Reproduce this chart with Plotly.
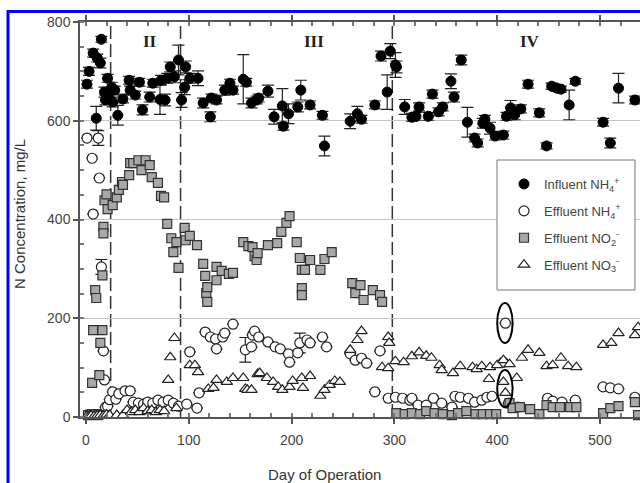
import plotly.graph_objects as go

# ---------------- data ----------------
inf_day = [1, 3, 7, 10, 11, 14, 15, 18, 19, 21, 22, 25, 26, 28, 31, 36, 42, 43, 48, 52, 55, 62, 65,
           72, 73, 77, 79, 82, 86, 90, 93, 96, 97, 101, 109, 114, 121, 122, 127, 135, 140, 143, 153,
           156, 161, 166, 168, 177, 183, 191, 192, 197, 206, 209, 218, 230, 232, 257, 264, 268, 281,
           287, 293, 296, 301, 302, 310, 317, 321, 324, 333, 337, 343, 347, 355, 358, 365, 371, 378,
           381, 386, 388, 393, 398, 406, 409, 413, 417, 423, 430, 441, 448, 453, 458, 462, 470, 476,
           503, 510, 518, 534]
inf_val = [674, 700, 737, 605, 727, 717, 765, 658, 642, 686, 648, 668, 638, 662, 611, 644, 682, 662, 652,
           678, 622, 648, 676, 643, 682, 642, 686, 709, 689, 723, 642, 668, 709, 686, 686, 636, 608, 646,
           642, 662, 676, 662, 684, 678, 636, 642, 646, 660, 608, 630, 589, 614, 628, 662, 632, 611, 549,
           599, 614, 603, 632, 731, 658, 741, 713, 709, 628, 607, 609, 628, 609, 654, 618, 628, 680, 648,
           723, 597, 565, 555, 595, 603, 585, 569, 571, 609, 626, 612, 624, 674, 616, 549, 670, 666, 664,
           632, 680, 597, 555, 666, 642]
inf_err = [8, 8, 8, 24, 8, 10, 6, 10, 10, 8, 10, 10, 10, 8, 20, 8, 8, 8, 8, 8, 10, 10, 8, 30, 10, 12, 10,
           10, 12, 30, 15, 15, 12, 10, 15, 10, 10, 8, 8, 10, 8, 8, 50, 8, 10, 8, 8, 12, 15, 35, 8, 20, 10,
           20, 8, 8, 20, 15, 15, 8, 8, 10, 35, 15, 25, 12, 15, 8, 8, 8, 8, 8, 8, 8, 15, 10, 10, 30, 8, 8,
           10, 8, 12, 8, 8, 8, 15, 10, 8, 8, 8, 6, 6, 6, 6, 30, 6, 8, 10, 30, 8]

eff_nh4_day = [1, 6, 7, 12, 13, 15, 17, 18, 19, 21, 23, 26, 29, 32, 38, 43, 46, 51, 56, 60, 65, 70, 75,
               80, 85, 90, 98, 101, 108, 110, 116, 121, 126, 127, 133, 135, 143, 155, 161, 162, 164, 168,
               177, 184, 189, 197, 198, 206, 208, 215, 218, 230, 234, 257, 262, 268, 273, 281, 286, 294,
               301, 308, 315, 317, 323, 331, 338, 346, 356, 359, 364, 372, 378, 385, 390, 395, 406, 408,
               411, 420, 449, 454, 463, 476, 503, 510, 518, 534]
eff_nh4_val = [565, 524, 411, 565, 484, 304, 134, 75, 20, 22, 35, 51, 36, 47, 53, 53, 30, 28, 26, 30, 28,
               34, 30, 34, 28, 22, 26, 132, 18, 49, 172, 162, 158, 138, 162, 170, 188, 136, 142, 166, 174,
               162, 152, 142, 138, 128, 111, 130, 150, 156, 150, 162, 142, 128, 115, 119, 109, 51, 134, 38,
               40, 38, 34, 38, 24, 24, 38, 28, 20, 42, 40, 38, 30, 34, 40, 42, 111, 190, 28, 20, 38, 32,
               30, 34, 61, 59, 57, 40]
eff_nh4_err = [0, 0, 0, 15, 0, 15, 0, 0, 0, 0, 0, 0, 0, 0, 0, 0, 0, 0, 0, 0, 0, 0, 0, 0, 0, 0, 0, 0, 0,
               0, 0, 0, 0, 0, 0, 0, 0, 25, 0, 0, 0, 0, 0, 0, 0, 0, 0, 0, 20, 0, 0, 0, 0, 0, 0, 0, 0, 0,
               0, 0, 0, 0, 0, 0, 0, 0, 0, 0, 0, 0, 0, 0, 0, 0, 0, 0, 0, 0, 0, 0, 0, 0, 0, 0, 0, 0, 0, 0]

no2_day = [2, 4, 6, 8, 10, 12, 6, 9, 10, 7, 13, 14, 16, 16, 17, 17, 18, 20, 21, 26, 30, 32, 35, 36, 42,
           43, 46, 51, 54, 58, 62, 64, 70, 73, 76, 79, 83, 85, 88, 90, 96, 97, 101, 108, 114, 116, 117,
           118, 118, 127, 127, 132, 139, 143, 153, 158, 162, 164, 166, 167, 177, 186, 190, 195, 198,
           205, 208, 210, 210, 210, 213, 218, 228, 232, 239, 259, 262, 267, 270, 279, 286, 288, 302,
           310, 317, 325, 331, 339, 347, 356, 362, 370, 379, 386, 393, 399, 412, 415, 422, 432, 441,
           448, 454, 461, 471, 477, 503, 510, 518, 534, 537]
no2_val = [4, 5, 6, 5, 6, 4, 69, 257, 241, 176, 85, 150, 176, 287, 385, 372, 439, 451, 421, 429, 445,
           460, 476, 470, 490, 514, 514, 520, 500, 520, 510, 486, 474, 448, 445, 391, 362, 334, 354, 302,
           383, 358, 367, 348, 310, 286, 251, 263, 233, 304, 277, 296, 290, 292, 354, 346, 344, 326, 318,
           332, 348, 352, 375, 393, 407, 354, 322, 298, 261, 247, 298, 318, 298, 320, 334, 271, 251, 267,
           237, 257, 247, 233, 8, 6, 8, 6, 12, 8, 6, 4, 8, 12, 6, 6, 6, 6, 28, 18, 20, 16, 6, 24, 20, 20,
           20, 20, 8, 18, 22, 30, 4]

no3_day = [1, 3, 5, 8, 11, 14, 17, 20, 23, 30, 36, 40, 44, 48, 52, 56, 60, 64, 68, 72, 76, 80, 82, 86,
           88, 101, 106, 109, 119, 124, 127, 137, 143, 153, 155, 157, 161, 167, 169, 176, 182, 187, 191,
           198, 201, 210, 211, 218, 228, 232, 237, 242, 247, 257, 264, 268, 288, 294, 294, 295, 301, 309,
           317, 324, 331, 336, 344, 346, 357, 364, 376, 380, 385, 392, 393, 400, 406, 406, 408, 412, 419,
           424, 430, 441, 448, 454, 462, 469, 477, 503, 511, 518, 534, 537]
no3_val = [2, 2, 3, 2, 3, 4, 3, 5, 4, 4, 4, 14, 10, 14, 10, 18, 12, 14, 10, 14, 12, 75, 121, 160, 18,
           105, 105, 91, 57, 59, 75, 71, 79, 79, 57, 55, 55, 87, 89, 79, 71, 61, 55, 61, 73, 79, 59, 83,
           43, 55, 65, 73, 71, 136, 156, 174, 101, 99, 162, 150, 113, 111, 123, 131, 124, 120, 105, 95,
           89, 103, 101, 97, 103, 77, 101, 105, 71, 115, 49, 107, 79, 120, 136, 130, 103, 105, 120, 103,
           101, 146, 150, 170, 166, 182]

phase_bounds = [24, 92, 298]
phase_labels = ["II", "III", "IV"]
phase_label_x = [62, 222, 432]

x_ticks = [0, 100, 200, 300, 400, 500]
y_ticks = [0, 200, 400, 600, 800]

# ---------------- figure ----------------
W, H = 640, 483
L, R, T, B = 80, 0, 22, 66
pw, ph = W - L - R, H - T - B

def px2paper_x(p):
    return (p - L) / pw

def py2paper_y(p):
    return 1 - (p - T) / ph

fig = go.Figure()

fig.add_trace(go.Scatter(
    x=inf_day, y=inf_val, mode="markers", name="Influent NH<sub>4</sub><sup>+</sup>",
    legendgroup="a",
    marker=dict(symbol="circle", size=10, color="black", line=dict(color="black", width=1)),
    error_y=dict(type="data", array=inf_err, visible=True, color="#222", thickness=1.2, width=6),
    cliponaxis=False))
fig.add_trace(go.Scatter(
    x=eff_nh4_day, y=eff_nh4_val, mode="markers", name="Effluent NH<sub>4</sub><sup>+</sup>",
    legendgroup="b",
    marker=dict(symbol="circle", size=10, color="white", line=dict(color="#222", width=1.2)),
    error_y=dict(type="data", array=eff_nh4_err, visible=True, color="#222", thickness=1.2, width=6),
    cliponaxis=False))
fig.add_trace(go.Scatter(
    x=no2_day, y=no2_val, mode="markers", name="Effluent NO<sub>2</sub><sup>-</sup>",
    legendgroup="c",
    marker=dict(symbol="square", size=9, color="#a8a8a8", line=dict(color="#333", width=1.2)),
    cliponaxis=False))
fig.add_trace(go.Scatter(
    x=no3_day, y=no3_val, mode="markers", name="Effluent NO<sub>3</sub><sup>-</sup>",
    legendgroup="d",
    marker=dict(symbol="triangle-up", size=10, color="white", line=dict(color="#222", width=1.2)),
    cliponaxis=False))

shapes = []
for xb in phase_bounds:
    shapes.append(dict(type="line", xref="x", yref="y", x0=xb, x1=xb, y0=0, y1=800,
                       line=dict(color="#333", width=1.5, dash="13px,5px"), layer="below"))
# ellipses highlighting day ~406 points
shapes.append(dict(type="circle", xref="x", yref="y", x0=400, x1=415, y0=150, y1=231,
                   line=dict(color="black", width=2)))
shapes.append(dict(type="circle", xref="x", yref="y", x0=400, x1=415, y0=20, y1=95,
                   line=dict(color="black", width=2)))
# legend box
shapes.append(dict(type="rect", xref="paper", yref="paper",
                   x0=px2paper_x(497), x1=px2paper_x(635), y0=py2paper_y(290), y1=py2paper_y(160),
                   line=dict(color="#777", width=1), fillcolor="white", layer="above"))
# blue frame
shapes.append(dict(type="rect", xref="paper", yref="paper",
                   x0=px2paper_x(8), x1=px2paper_x(660), y0=py2paper_y(495), y1=py2paper_y(11.5),
                   line=dict(color="#0000ff", width=3)))

annotations = []
for lab, lx in zip(phase_labels, phase_label_x):
    annotations.append(dict(x=lx, y=py2paper_y(41), xref="x", yref="paper", text="<b>%s</b>" % lab,
                            xanchor="center", yanchor="middle", showarrow=False,
                            font=dict(family="Liberation Serif", size=17, color="#222")))
annotations.append(dict(x=(325 - 86) / 1.028, y=py2paper_y(474), xref="x", yref="paper",
                        text="Day of Operation", showarrow=False, xanchor="center", yanchor="middle",
                        font=dict(family="Liberation Sans", size=15, color="#333")))
annotations.append(dict(x=px2paper_x(20), y=py2paper_y(214), xref="paper", yref="paper",
                        text="N Concentration, mg/L", textangle=-90, showarrow=False,
                        xanchor="center", yanchor="middle",
                        font=dict(family="Liberation Sans", size=15, color="#333")))

fig.update_layout(
    width=W, height=H, margin=dict(l=L, r=R, t=T, b=B, pad=0),
    paper_bgcolor="white", plot_bgcolor="white",
    font=dict(family="Liberation Sans", color="#444", size=14),
    shapes=shapes, annotations=annotations,
    showlegend=True,
    legend=dict(x=px2paper_x(504), y=py2paper_y(169), xanchor="left", yanchor="top",
                bgcolor="rgba(0,0,0,0)", borderwidth=0, tracegroupgap=7,
                font=dict(family="Liberation Sans", size=13, color="#444")),
)
fig.update_xaxes(range=[-5.8, 538.9], tickvals=x_ticks, ticks="outside", ticklen=5, tickwidth=1.5,
                 tickcolor="#555", showline=True, linecolor="#555", linewidth=1.5, mirror="ticks",
                 showgrid=False, zeroline=False, tickfont=dict(size=14, color="#444"),
                 ticklabelstandoff=4,
                 minor=dict(dtick=20, tick0=0, ticks="inside", ticklen=4, tickcolor="#777", showgrid=False))
fig.update_yaxes(range=[0, 800], tickvals=y_ticks, ticks="outside", ticklen=5, tickwidth=1.5,
                 tickcolor="#555", showline=True, linecolor="#555", linewidth=1.5, mirror=False,
                 showgrid=True, gridcolor="#c4c4c4", gridwidth=1.2, zeroline=False,
                 tickfont=dict(size=14, color="#444"),
                 minor=dict(dtick=50, tick0=0, ticks="inside", ticklen=4, tickcolor="#777", showgrid=False))

fig.write_html("out.html", config={"displayModeBar": False},
               post_script="document.body.style.margin='0px';document.body.style.overflow='hidden';")
